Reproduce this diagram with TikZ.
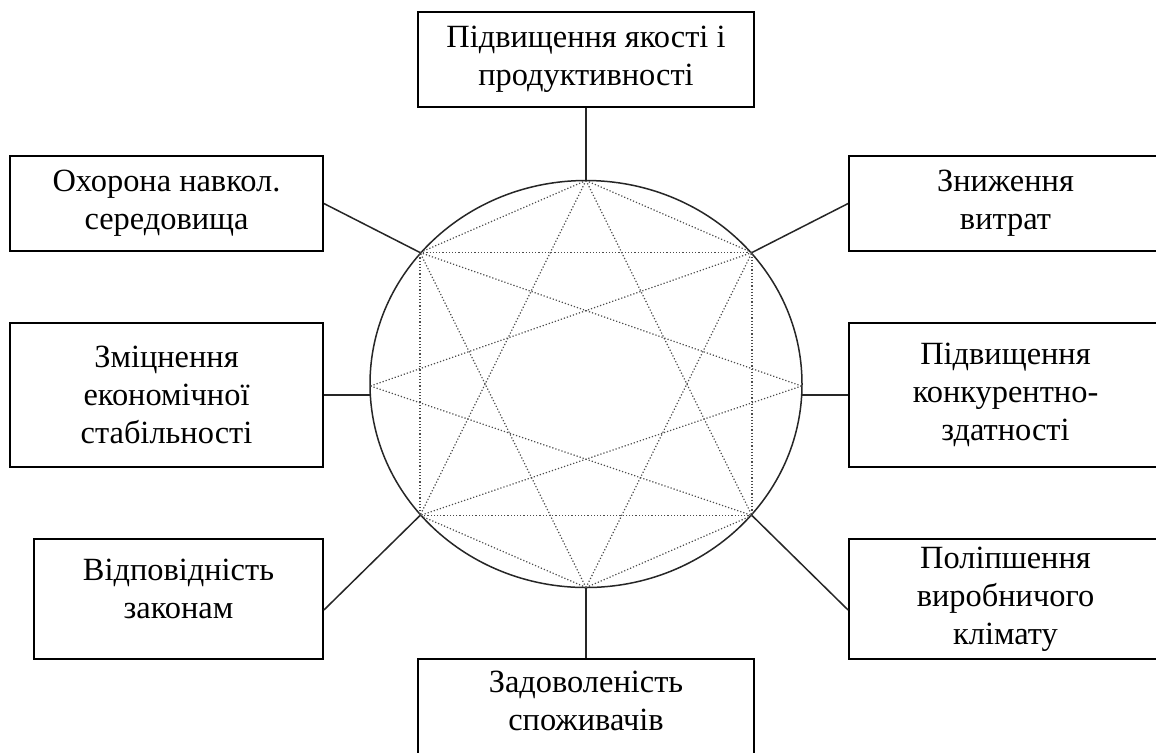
\documentclass[tikz,border=0pt]{standalone}
\usepackage{fontspec}
\setmainfont{Liberation Serif}
\usetikzlibrary{calc}
\tikzset{
  goal/.style={draw=black,line width=0.9pt,fill=white,align=center,inner sep=2pt,
               font=\fontsize{16.2}{19}\selectfont},
  midgoal/.style={goal,minimum width=168pt,minimum height=47.5pt},
  sidegoal/.style={goal,minimum width=156.5pt,minimum height=47.5pt},
  tallgoal/.style={sidegoal,minimum height=72pt},
  lowgoal/.style={sidegoal,minimum height=60pt},
  link/.style={black!85,line width=0.75pt},
  rim/.style={black!85,line width=0.75pt},
  chord/.style={black!70,line width=0.6pt,densely dotted},
}

\begin{document}
\begin{tikzpicture}[x=0.5pt,y=-0.5pt]
  \clip (0,0) rectangle (1156,752);
  \fill[white] (0,0) rectangle (1156,752);

  % points on the rim
  \coordinate (T)  at (586,180.5);
  \coordinate (TR) at (752,252.5);
  \coordinate (R)  at (801.5,386);
  \coordinate (BR) at (752,515.5);
  \coordinate (B)  at (586,587.5);
  \coordinate (BL) at (420,515.5);
  \coordinate (L)  at (370.5,386);
  \coordinate (TL) at (420,252.5);

  \draw[rim] (586,384) ellipse [x radius=108pt,y radius=101.75pt];

  \draw[chord] (TL)--(TR)--(BR)--(BL)--cycle;
  \draw[chord] (T)--(TL) (T)--(TR) (T)--(BL) (T)--(BR);
  \draw[chord] (B)--(BL) (B)--(BR) (B)--(TL) (B)--(TR);
  \draw[chord] (L)--(TR) (L)--(BR) (R)--(TL) (R)--(BL);

  \node[midgoal] (quality) at (586,59.5) {Підвищення якості і\\продуктивності};
  \node[sidegoal] (nature) at (166.5,203.5) {Охорона навкол.\\середовища};
  \node[sidegoal] (costs) at (1005.5,203.5) {Зниження\\витрат};
  \node[tallgoal] (stability) at (166.5,395) {Зміцнення\\економічної\\стабільності};
  \node[tallgoal] (compete) at (1005.5,395) {Підвищення\\конкурентно-\\здатності};
  \node[lowgoal,minimum width=144.5pt,text depth=10pt] (laws) at (178.5,599) {Відповідність\\законам};
  \node[lowgoal] (climate) at (1005.5,599) {Поліпшення\\виробничого\\клімату};
  \node[midgoal,text depth=6pt] (clients) at (586,706.5) {Задоволеність\\споживачів};

  \draw[link] (quality.south) -- (T);
  \draw[link] (nature.east) -- (TL);
  \draw[link] (costs.west) -- (TR);
  \draw[link] (stability.east) -- (stability.east -| L);
  \draw[link] (compete.west) -- (compete.west -| R);
  \draw[link] ([yshift=-5.5pt]laws.east) -- (BL);
  \draw[link] ([yshift=-5.5pt]climate.west) -- (BR);
  \draw[link] (B) -- (clients.north);
\end{tikzpicture}
\end{document}
